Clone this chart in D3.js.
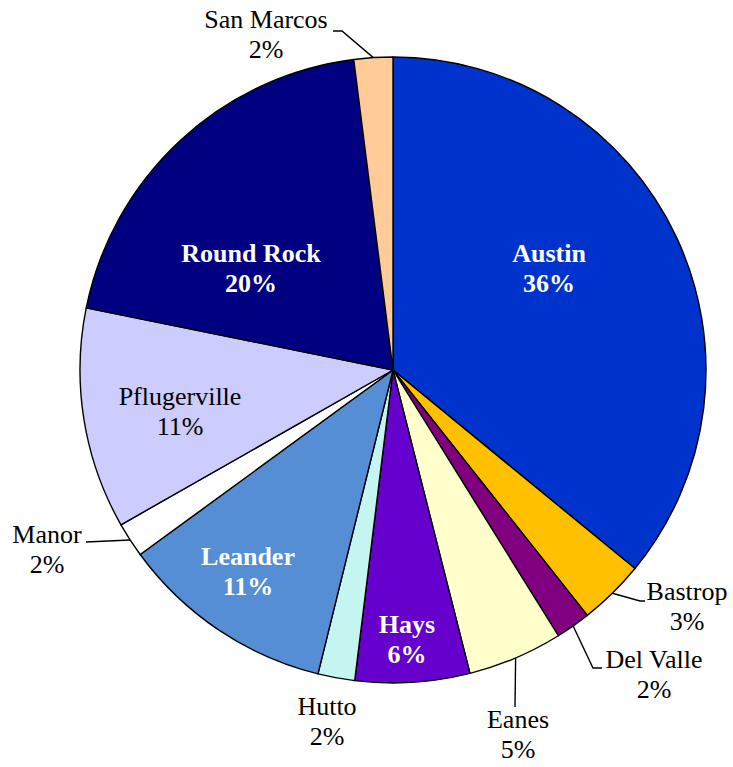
<!DOCTYPE html>
<html>
<head>
<meta charset="utf-8">
<script src="https://cdn.jsdelivr.net/npm/d3@7"></script>
<style>
  html, body { margin: 0; padding: 0; background: #fff; }
  svg { display: block; }
  svg text { font-family: "Liberation Serif", "Times New Roman", Times, "DejaVu Serif", serif; }
</style>
</head>
<body>
<svg id="chart" width="733" height="767"></svg>
<script>
// ---- data ----
const cities = ["Austin", "Bastrop", "Del Valle", "Eanes", "Hays", "Hutto", "Leander", "Manor", "Pflugerville", "Round Rock", "San Marcos"];
const shares = [35.9, 3.4, 1.8, 4.9, 5.9, 1.9, 11.1, 1.8, 11.4, 19.8, 2.0];

// ---- styling / layout (not data) ----
const colors = ["#0033CC", "#FFC000", "#800080", "#FFFFCC", "#6600CC", "#C4F5F0", "#558ED5", "#FFFFFF", "#CCCCFF", "#000080", "#FFCC99"];
const labelWhite = [true, false, false, false, true, false, true, false, false, true, false];
// label centre x and first baseline y, relative to pie centre
const labelPos = [[156, -108], [294, 230], [261, 298], [125, 358], [14, 263], [-66, 345], [-145, 195], [-346, 173], [-213, 35], [-142, -108], [-127, -342]];
// leader line extra points (after arc point), relative to pie centre; null = none
const leaders = [null, [[247, 231], [252, 231]], [[200, 298], [209, 298]], [[122, 337]], null, null, null, [[-307, 172]], null, null, [[-51, -339], [-60, -339]]];

const cx = 393, cy = 370, R = 313;

const svg = d3.select("#chart");
const g = svg.append("g").attr("transform", `translate(${cx},${cy})`);

const data = cities.map((c, i) => ({ city: c, value: shares[i], i }));
const total = d3.sum(shares);

const pie = d3.pie().value(d => d.value).sort(null);
const arc = d3.arc().innerRadius(0).outerRadius(R);
const arcs = pie(data);

g.selectAll("path.slice")
  .data(arcs)
  .join("path")
  .attr("class", "slice")
  .attr("d", arc)
  .attr("fill", d => colors[d.data.i])
  .attr("stroke", "#000")
  .attr("stroke-width", 1.4)
  .attr("stroke-linejoin", "round");

// leader lines
arcs.forEach(d => {
  const extra = leaders[d.data.i];
  if (!extra) return;
  const mid = (d.startAngle + d.endAngle) / 2;
  const p0 = [R * Math.sin(mid), -R * Math.cos(mid)];
  const pts = [p0].concat(extra);
  g.append("path")
    .attr("d", d3.line()(pts))
    .attr("fill", "none")
    .attr("stroke", "#000")
    .attr("stroke-width", 1.4);
});

// labels
arcs.forEach(d => {
  const i = d.data.i;
  const [lx, ly] = labelPos[i];
  const white = labelWhite[i];
  const pct = Math.round(d.data.value / total * 100) + "%";
  const t = g.append("text")
    .attr("text-anchor", "middle")
    .style("font-size", "26px")
    .style("font-weight", white ? "bold" : "normal")
    .attr("fill", white ? "#fff" : "#000");
  t.append("tspan").attr("x", lx).attr("y", ly).text(d.data.city);
  t.append("tspan").attr("x", lx).attr("y", ly + 30).text(pct);
});
</script>
</body>
</html>
